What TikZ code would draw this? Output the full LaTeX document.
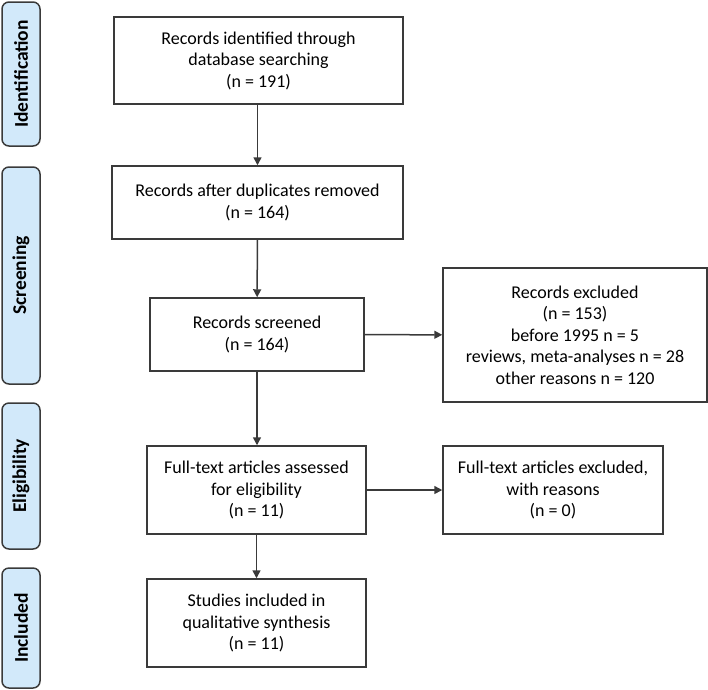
\documentclass[tikz,border=0pt]{standalone}
\usepackage{fontspec}
\setmainfont{Carlito}
\usetikzlibrary{arrows.meta}

\definecolor{stagefill}{HTML}{D2E9FA}
\definecolor{linegray}{HTML}{3A3A3A}

\tikzset{
  stage/.style={draw=linegray, fill=stagefill, line width=1.5pt, rounded corners=7pt,
    rotate=90, minimum height=38pt, inner sep=0pt, font=\fontsize{19.5}{22}\selectfont\bfseries},
  box/.style={draw=linegray, line width=1.5pt, align=center, inner sep=0pt,
    font=\fontsize{18}{21.5}\selectfont},
  flow/.style={draw=linegray, line width=1.5pt, -{Triangle[length=8pt,width=8pt]}}
}

\begin{document}
\begin{tikzpicture}[x=1pt,y=-1pt]
\useasboundingbox (0,0) rectangle (708,689);
% stages
\node[stage, minimum width=144pt] (ident) at (21,74) {Identification};
\node[stage, minimum width=217pt] (screen) at (21,275.5) {Screening};
\node[stage, minimum width=146pt] (elig) at (21,476) {Eligibility};
\node[stage, minimum width=120pt] (incl) at (21,628) {Included};
% boxes
\node[box, minimum width=289pt, minimum height=87pt] (found) at (258.5,60.5) {Records identified through\\database searching\\(n = 191)};
\node[box, minimum width=291pt, minimum height=73pt] (dedup) at (257.5,202.5) {Records after duplicates removed\\(n = 164)};
\node[box, minimum width=214pt, minimum height=73pt] (screened) at (257,334.5) {Records screened\\(n = 164)};
\node[box, minimum width=264pt, minimum height=134pt] (excl) at (575,335) {Records excluded\\(n = 153)\\before 1995 n = 5\\reviews, meta-analyses n = 28\\other reasons n = 120};
\node[box, minimum width=219pt, minimum height=88pt] (fulltext) at (256.5,490) {Full-text articles assessed\\for eligibility\\(n = 11)};
\node[box, minimum width=220pt, minimum height=88pt] (ftexcl) at (553,490) {Full-text articles excluded,\\with reasons\\(n = 0)};
\node[box, minimum width=219pt, minimum height=88pt] (incstudies) at (256.5,623) {Studies included in\\qualitative synthesis\\(n = 11)};
% arrows
\draw[flow] (found.south -| dedup.north) -- (dedup.north);
\draw[flow] (dedup) -- (screened);
\draw[flow] (screened) -- (excl);
\draw[flow] (screened.south) -- (screened.south |- fulltext.north);
\draw[flow] (fulltext) -- (ftexcl);
\draw[flow] (fulltext) -- (incstudies);
\end{tikzpicture}
\end{document}
